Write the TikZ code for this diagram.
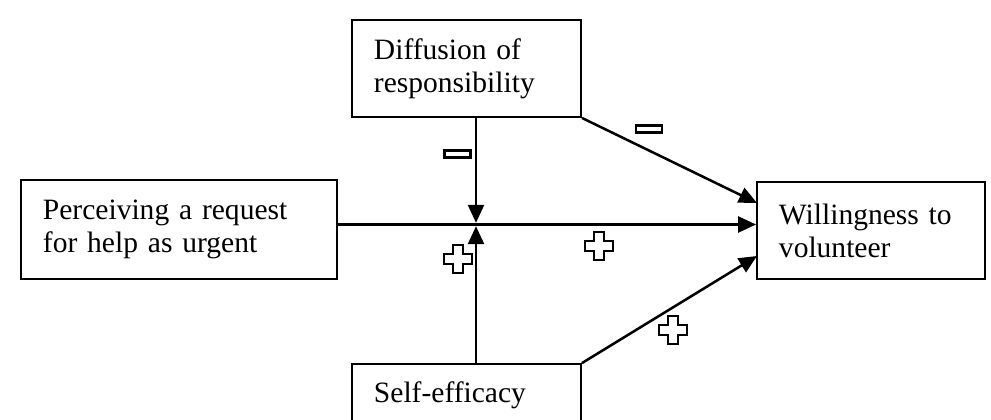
\documentclass[tikz,border=0pt]{standalone}
\usepackage{fontspec}
\setmainfont{Liberation Serif}
\usepackage{tikz}
\usetikzlibrary{arrows.meta}

\tikzset{
	factor/.style={draw, rectangle, line width=1.3pt, inner xsep=0.55cm, inner ysep=0pt,
		align=left, font=\fontsize{21}{23.5}\selectfont},
	link/.style={line width=1.8pt, -{Triangle[length=0.45cm, width=0.4cm]}},
	minussign/.pic={\draw[line width=2pt] (-13,-3.5) rectangle (13,3.5);},
	plussign/.pic={\draw[line width=2pt] (-5,-14) -- (5,-14) -- (5,-5) -- (14,-5) -- (14,5) -- (5,5)
		-- (5,14) -- (-5,14) -- (-5,5) -- (-14,5) -- (-14,-5) -- (-5,-5) -- cycle;}
}

\begin{document}
\begin{tikzpicture}[x=0.025cm, y=-0.025cm]
			\useasboundingbox (0,0) rectangle (991,420);
			
			\node[factor, minimum width=5.725cm, minimum height=2.425cm, text width=4.625cm] (diffusion) at (466.5,68.5) {Diffusion of\\responsibility};
			\node[factor, minimum width=7.9cm, minimum height=2.475cm, text width=6.8cm] (perceiving) at (179,229.5) {Perceiving a request\\for help as urgent};
			\node[factor, minimum width=5.7cm, minimum height=2.425cm, text width=4.6cm] (willingness) at (871,230.5) {Willingness to\\volunteer};
			\node[factor, minimum width=5.725cm, minimum height=1.55cm, text width=4.625cm] (selfefficacy) at (466.5,395) {Self-efficacy};
			
			\coordinate (join) at (476,224.5);
			\coordinate (wtop) at (757,203);
			\coordinate (wbottom) at (757,256);
			
			\draw[link] (perceiving.east |- join) to (willingness.west |- join);
			\draw[link, shorten >=1.2pt] (diffusion.south -| join) to (join);
			\draw[link, shorten >=1.2pt] (selfefficacy.north -| join) to (join);
			\draw[link] (diffusion.south east) to (wtop);
			\draw[link] (selfefficacy.north east) to (wbottom);
			
			\pic at (457.5,154) {minussign};
			\pic at (649,129) {minussign};
			\pic at (458,259) {plussign};
			\pic at (599,246) {plussign};
			\pic at (673,330) {plussign};
		\end{tikzpicture}
\end{document}
